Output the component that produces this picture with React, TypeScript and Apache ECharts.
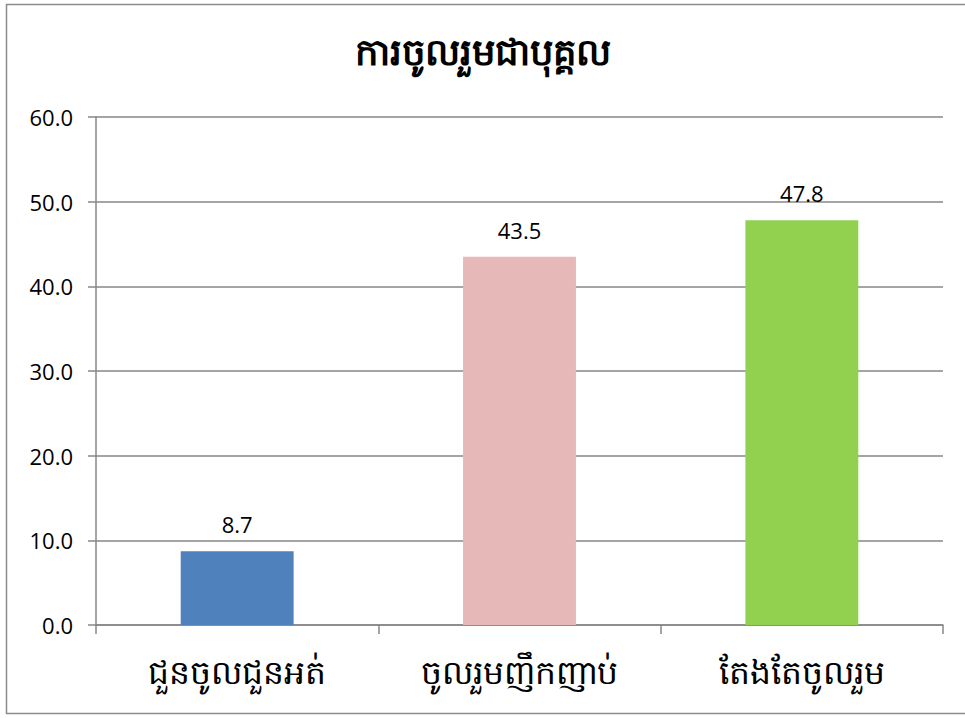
import React, { useEffect, useRef } from "react";
import * as echarts from "echarts";

const title = "ការចូលរួមជាបុគ្គល";
const categories = ["ជួនចូលជួនអត់", "ចូលរួមញឹកញាប់", "តែងតែចូលរួម"];
const values = [8.7, 43.5, 47.8];
const barColors = ["#4F81BD", "#E6B9B8", "#92D050"];

export default function App() {
  const ref = useRef<HTMLDivElement>(null);
  useEffect(() => {
    const chart = echarts.init(ref.current!, null, { renderer: "svg" });
    const grid = "#878787";
    chart.setOption({
      animation: false,
      backgroundColor: "#ffffff",
      title: {
        text: title,
        left: "center",
        top: 27,
        textStyle: { fontSize: 37, fontWeight: "bold", color: "#000", fontFamily: "Noto Sans, DejaVu Sans, sans-serif" },
      },
      graphic: [
        {
          type: "rect",
          shape: { x: 6.5, y: 4.5, width: 970, height: 709 },
          style: { fill: "none", stroke: "#8c8c8c", lineWidth: 1.5 },
          silent: true,
        },
      ],
      grid: { left: 96, right: 22, top: 117, bottom: 93 },
      xAxis: {
        type: "category",
        data: categories,
        axisLine: { show: true, lineStyle: { color: grid, width: 1.5 } },
        axisTick: { show: true, length: 9, lineStyle: { color: grid, width: 1.5 } },
        axisLabel: { fontSize: 33, color: "#000", margin: 30, fontFamily: "Noto Sans, DejaVu Sans, sans-serif" },
      },
      yAxis: {
        type: "value",
        min: 0,
        max: 60,
        interval: 10,
        axisLine: { show: true, lineStyle: { color: grid, width: 1.5 } },
        axisTick: { show: true, length: 8, lineStyle: { color: grid, width: 1.5 } },
        splitLine: { show: true, lineStyle: { color: grid, width: 1.5 } },
        axisLabel: {
          fontSize: 22,
          color: "#000",
          margin: 23,
          fontFamily: "Open Sans, Liberation Sans, sans-serif",
          formatter: (v: number) => v.toFixed(1),
        },
      },
      series: [
        {
          type: "bar",
          barWidth: "40%",
          data: values.map((v, i) => ({ value: v, itemStyle: { color: barColors[i] } })),
          label: {
            show: true,
            position: "top",
            distance: 16,
            fontSize: 22,
            color: "#000",
            fontFamily: "Open Sans, Liberation Sans, sans-serif",
            formatter: (p: any) => p.value.toFixed(1),
          },
        },
      ],
    });
    return () => chart.dispose();
  }, []);
  return (
    <div
      ref={ref}
      style={{ position: "fixed", left: 0, top: 0, width: 965, height: 718 }}
    />
  );
}
